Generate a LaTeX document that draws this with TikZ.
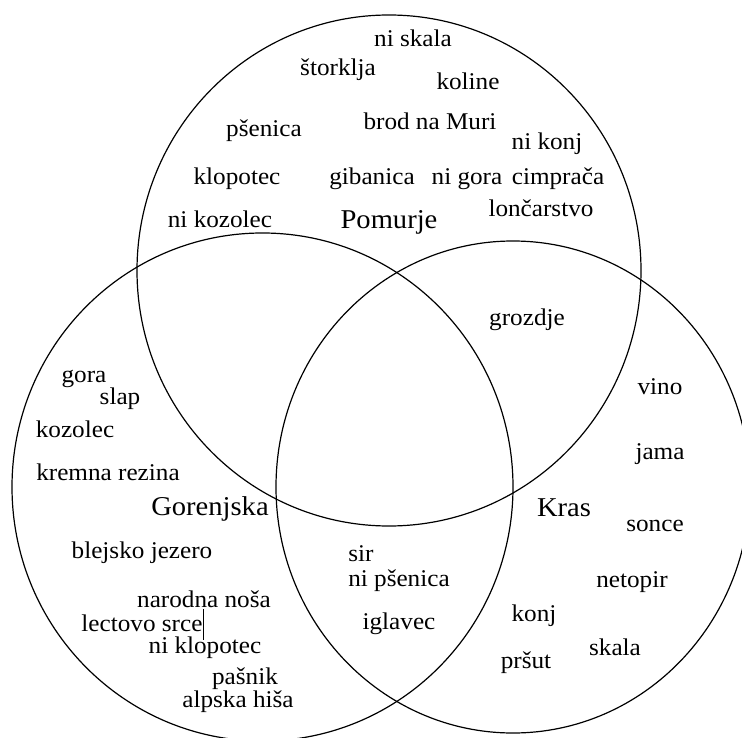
\documentclass[tikz,border=0pt]{standalone}
\usepackage{fontspec}
\setmainfont[FakeStretch=1.05]{Liberation Serif}
\begin{document}
\begin{tikzpicture}[x=1pt,y=-1pt,
  t/.style={font=\fontsize{24}{28}\selectfont, inner sep=0pt, anchor=base},
  lab/.style={font=\fontsize{27.2}{32}\selectfont, inner sep=0pt, anchor=base},
  ring/.style={draw=black, line width=1.2pt}]
\useasboundingbox (0,0) rectangle (742,738);
\fill[white] (0,0) rectangle (742,738);
\clip (0,0) rectangle (742,738);
% circles
\coordinate (cP) at (389,270.5);
\coordinate (cG) at (262.5,487);
\coordinate (cK) at (513,487);
\draw[ring] (cP) ellipse [x radius=252, y radius=255.5];
\draw[ring] (cG) ellipse [x radius=250.5, y radius=254];
\draw[ring] (cK) ellipse [x radius=237, y radius=246];
% Pomurje
\node[lab] (pom) at (389,229) {Pomurje};
\node[t] (p1) at (413,47) {ni skala};
\node[t] (p2) at (338,76) {štorklja};
\node[t] (p3) at (468,90) {koline};
\node[t] (p4) at (430,130) {brod na Muri};
\node[t] (p5) at (264,137) {pšenica};
\node[t] (p6) at (547,150) {ni konj};
\node[t] (p7) at (237,185) {klopotec};
\node[t] (p8) at (372,185) {gibanica};
\node[t] (p9) at (467,185) {ni gora};
\node[t] (p10) at (558,185) {cimprača};
\node[t] (p11) at (541,217) {lončarstvo};
\node[t] (p12) at (220,228) {ni kozolec};
\node[t] (p13) at (527,325) {grozdje};
% Gorenjska
\node[lab] (gor) at (210,515) {Gorenjska};
\node[t] (g1) at (84,382) {gora};
\node[t] (g2) at (120,404) {slap};
\node[t] (g3) at (75,437) {kozolec};
\node[t] (g4) at (108,480) {kremna rezina};
\node[t] (g5) at (142,558) {blejsko jezero};
\node[t] (g6) at (204,607) {narodna noša};
\node[t] (g7) at (142,631) {lectovo srce};
\node[t] (g8) at (205,653) {ni klopotec};
\node[t] (g9) at (245,684) {pašnik};
\node[t] (g10) at (238,707) {alpska hiša};
\coordinate (cur1) at (203.5,609);
\coordinate (cur2) at (203.5,640);
\draw[line width=1pt] (cur1) -- (cur2);
% centre
\node[t] (c1) at (361,561) {sir};
\node[t] (c2) at (399,586) {ni pšenica};
\node[t] (c3) at (399,629) {iglavec};
% Kras
\node[lab] (kra) at (564,516) {Kras};
\node[t] (k1) at (660,394) {vino};
\node[t] (k2) at (660,459) {jama};
\node[t] (k3) at (655,531) {sonce};
\node[t] (k4) at (632,587) {netopir};
\node[t] (k5) at (534,621) {konj};
\node[t] (k6) at (615,655) {skala};
\node[t] (k7) at (526,668) {pršut};
\end{tikzpicture}
\end{document}
